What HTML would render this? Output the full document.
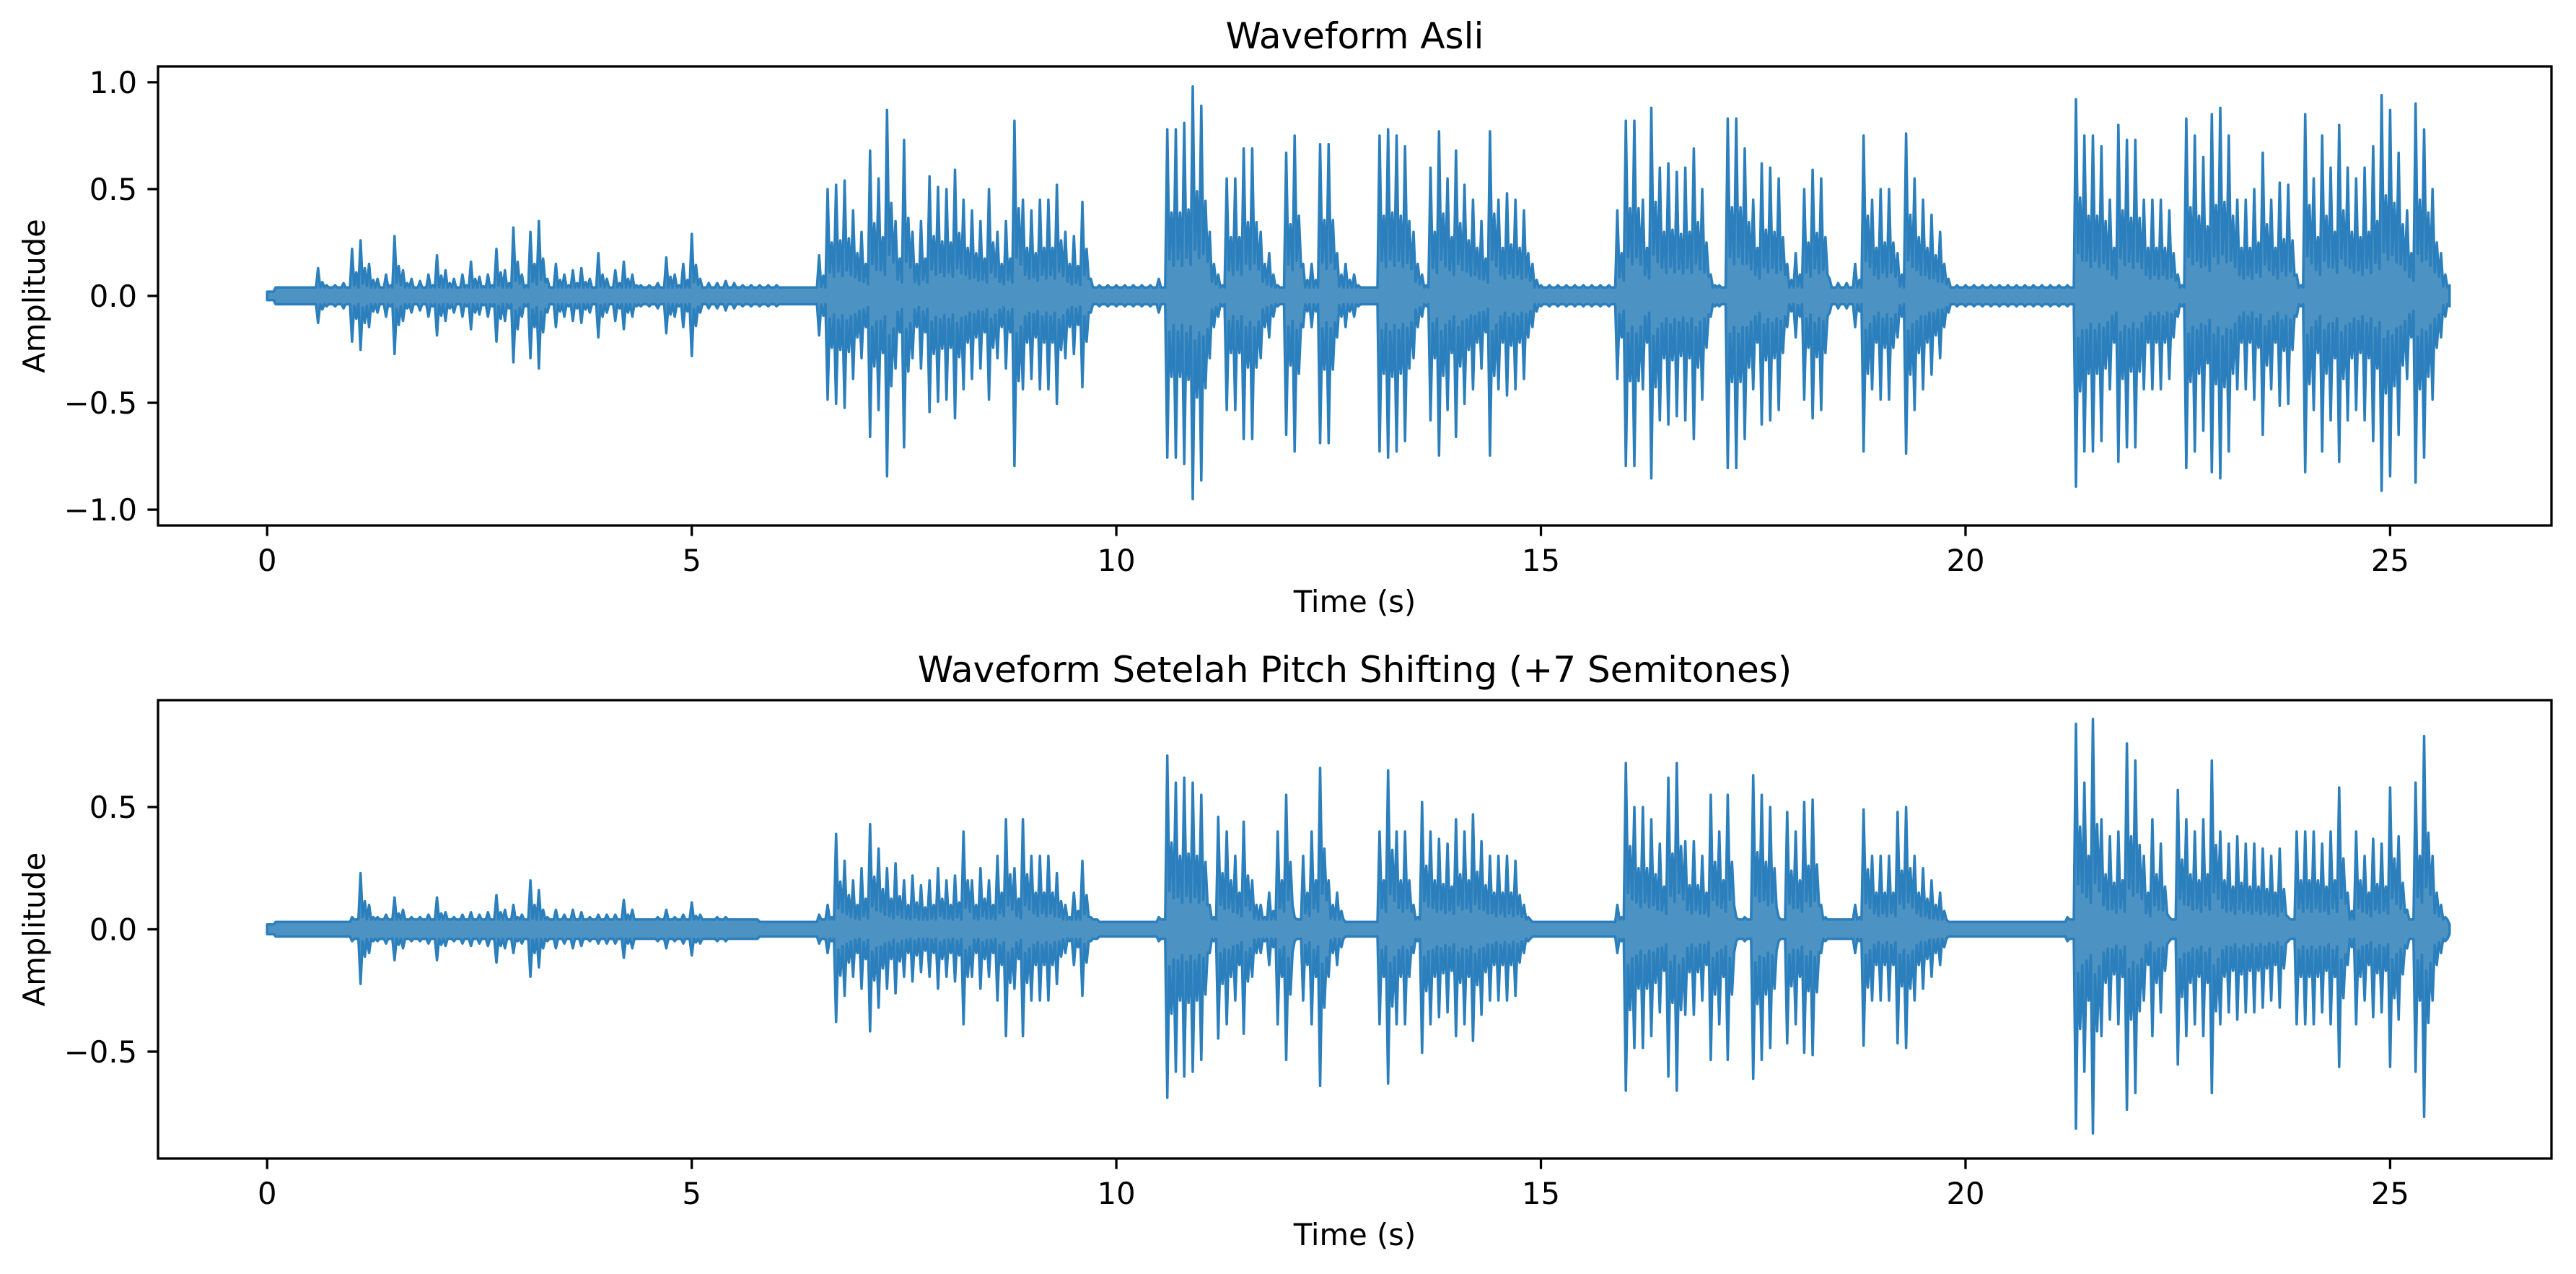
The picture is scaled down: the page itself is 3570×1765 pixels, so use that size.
<!DOCTYPE html>
<html><head><meta charset="utf-8"><style>
html,body{margin:0;padding:0;background:#fff;}
svg{display:block;font-family:"DejaVu Sans","Liberation Sans",sans-serif;}
</style></head><body>
<svg id="chart" width="3570" height="1765" viewBox="0 0 3570 1765" xmlns="http://www.w3.org/2000/svg">
<rect width="3570" height="1765" fill="#fff"/>
<g id="p1"></g>
<g id="p2"></g>
</svg>
<script>
const origPeaks = [
0.02,0.04,0.04,0.04,0.04,0.04,0.13,0.05,0.05,0.06,
0.22,0.26,0.15,0.08,0.10,0.28,0.12,0.08,0.07,0.10,
0.19,0.12,0.08,0.10,0.16,0.09,0.10,0.22,0.12,0.32,
0.10,0.30,0.35,0.08,0.15,0.10,0.12,0.13,0.08,0.20,
0.08,0.12,0.16,0.10,0.05,0.05,0.06,0.18,0.10,0.15,
0.29,0.08,0.06,0.06,0.07,0.06,0.05,0.05,0.05,0.05,
0.05,0.04,0.04,0.04,0.04,0.19,0.50,0.52,0.54,0.40,
0.30,0.68,0.55,0.87,0.35,0.73,0.30,0.35,0.56,0.51,
0.50,0.59,0.45,0.40,0.35,0.50,0.30,0.35,0.82,0.45,
0.40,0.45,0.45,0.52,0.30,0.28,0.44,0.08,0.05,0.05,
0.05,0.05,0.05,0.05,0.05,0.08,0.78,0.78,0.81,0.98,
0.89,0.30,0.10,0.55,0.55,0.69,0.69,0.30,0.20,0.05,
0.67,0.75,0.15,0.15,0.71,0.71,0.20,0.15,0.10,0.04,
0.04,0.75,0.78,0.75,0.70,0.30,0.10,0.60,0.77,0.55,
0.68,0.52,0.45,0.35,0.77,0.45,0.48,0.45,0.40,0.15,
0.05,0.05,0.05,0.05,0.05,0.05,0.05,0.05,0.05,0.40,
0.82,0.82,0.45,0.88,0.60,0.62,0.58,0.60,0.69,0.50,
0.10,0.05,0.83,0.83,0.69,0.45,0.62,0.60,0.55,0.15,
0.20,0.50,0.59,0.55,0.08,0.06,0.06,0.15,0.75,0.45,
0.50,0.50,0.20,0.76,0.55,0.45,0.38,0.30,0.08,0.05,
0.05,0.05,0.05,0.05,0.05,0.05,0.05,0.05,0.05,0.05,
0.05,0.05,0.05,0.92,0.75,0.75,0.70,0.45,0.80,0.73,
0.73,0.45,0.45,0.45,0.40,0.10,0.83,0.75,0.65,0.85,
0.88,0.75,0.45,0.45,0.50,0.67,0.45,0.53,0.52,0.10,
0.85,0.55,0.75,0.60,0.80,0.60,0.55,0.60,0.70,0.94,
0.87,0.67,0.40,0.90,0.78,0.50,0.20,0.05];
const shiftPeaks = [
0.02,0.03,0.03,0.03,0.03,0.03,0.03,0.03,0.03,0.03,
0.05,0.23,0.10,0.05,0.06,0.13,0.08,0.05,0.05,0.06,
0.13,0.07,0.05,0.06,0.07,0.06,0.07,0.14,0.08,0.10,
0.06,0.20,0.16,0.05,0.08,0.06,0.08,0.07,0.05,0.06,
0.06,0.06,0.12,0.08,0.04,0.04,0.05,0.08,0.05,0.06,
0.11,0.06,0.04,0.05,0.05,0.04,0.04,0.04,0.03,0.03,
0.03,0.03,0.03,0.03,0.03,0.06,0.10,0.39,0.28,0.20,
0.25,0.43,0.33,0.25,0.27,0.20,0.22,0.18,0.20,0.25,
0.20,0.22,0.40,0.20,0.25,0.20,0.30,0.45,0.25,0.45,
0.30,0.30,0.30,0.23,0.10,0.15,0.28,0.05,0.03,0.03,
0.03,0.03,0.03,0.03,0.03,0.05,0.71,0.60,0.62,0.60,
0.55,0.10,0.46,0.40,0.30,0.44,0.20,0.10,0.15,0.40,
0.55,0.05,0.30,0.40,0.66,0.20,0.15,0.03,0.03,0.03,
0.03,0.40,0.65,0.40,0.40,0.10,0.52,0.40,0.37,0.35,
0.45,0.40,0.47,0.36,0.30,0.30,0.30,0.28,0.10,0.03,
0.03,0.03,0.03,0.03,0.03,0.03,0.03,0.03,0.03,0.10,
0.68,0.50,0.50,0.45,0.35,0.62,0.68,0.36,0.36,0.30,
0.55,0.40,0.55,0.05,0.05,0.63,0.55,0.50,0.05,0.48,
0.40,0.52,0.53,0.10,0.04,0.04,0.04,0.10,0.49,0.30,
0.30,0.30,0.48,0.50,0.30,0.25,0.20,0.15,0.03,0.03,
0.03,0.03,0.03,0.03,0.03,0.03,0.03,0.03,0.03,0.03,
0.03,0.03,0.05,0.84,0.60,0.86,0.45,0.38,0.40,0.76,
0.69,0.30,0.45,0.35,0.05,0.57,0.45,0.40,0.45,0.69,
0.40,0.35,0.38,0.35,0.35,0.33,0.30,0.33,0.05,0.40,
0.40,0.40,0.35,0.40,0.58,0.15,0.40,0.30,0.37,0.35,
0.58,0.38,0.08,0.60,0.79,0.30,0.10,0.02];
const binSeconds = 0.1;
const xTicks = [0,5,10,15,20,25];
const yTicksTop = [-1.0,-0.5,0.0,0.5,1.0];
const yTicksBottom = [-0.5,0.0,0.5];
const titles = ["Waveform Asli","Waveform Setelah Pitch Shifting (+7 Semitones)"];

const NS = "http://www.w3.org/2000/svg";
function mk(tag, attrs, parent){
  const e = document.createElementNS(NS, tag);
  for (const k in attrs) e.setAttribute(k, attrs[k]);
  parent.appendChild(e); return e;
}
function fmt(v){ return (v<0?"\u2212":"") + Math.abs(v).toFixed(1); }

function panel(g, peaks, yTicks, ylim, top, bottom, title){
  const L=219, R=3536;
  const X = t => L + (t + 1.285) / (26.9 + 1.285) * (R - L);
  const Y = v => top + (ylim - v) / (2*ylim) * (bottom - top);
  let up=[], dn=[];
  const frac=[1,0.22,0.5,0.18];
  peaks.forEach((p,i)=>{
    const last = i===peaks.length-1;
    for(let k=0;k<(last?1:4);k++){
      const t=(i+k/4)*binSeconds;
      const a=Math.max(p*frac[k], Math.min(p,0.04));
      up.push(X(t).toFixed(1)+","+Y(a).toFixed(1));
      dn.push(X(t).toFixed(1)+","+Y(-a*0.97).toFixed(1));
    }
  });
  const wave = mk("polygon",{points: up.concat(dn.reverse()).join(" "), fill:"#1f77b4","fill-opacity":"0.8", stroke:"#2b7fbc","stroke-width":"3.5","stroke-linejoin":"round"}, g);
  
  
  const fr = mk("rect",{x:L,y:top,width:R-L,height:bottom-top,fill:"none",stroke:"#000","stroke-width":"3.3"}, g);
  
  
  xTicks.forEach(t=>{
    const x=X(t);
    mk("line",{x1:x,x2:x,y1:bottom,y2:bottom+14.6,stroke:"#000","stroke-width":"3.3"}, g);
    const tx = mk("text",{x:x,y:bottom+63,"font-size":"41.7","text-anchor":"middle"}, g);
    tx.textContent = String(t);
    
    
  });
  yTicks.forEach(v=>{
    const y=Y(v);
    mk("line",{x1:L-14.6,x2:L,y1:y,y2:y,stroke:"#000","stroke-width":"3.3"}, g);
    const ty = mk("text",{x:L-29,y:y+15,"font-size":"41.7","text-anchor":"end"}, g);
    ty.textContent = fmt(v);
    
    
  });
  const tt = mk("text",{x:(L+R)/2,y:top-25,"font-size":"50","text-anchor":"middle"}, g);
  tt.textContent = title;
  
  
  const xl = mk("text",{x:(L+R)/2,y:bottom+120,"font-size":"41.7","text-anchor":"middle"}, g);
  xl.textContent = "Time (s)";
  
  
  const cy=(top+bottom)/2;
  const yl = mk("text",{x:62,y:cy,"font-size":"41.7","text-anchor":"middle",transform:"rotate(-90 62 "+cy+")"}, g);
  yl.textContent = "Amplitude";
  
  
}
panel(document.getElementById("p1"), origPeaks, yTicksTop, 1.074, 92, 728, titles[0]);
panel(document.getElementById("p2"), shiftPeaks, yTicksBottom, 0.937, 970, 1605, titles[1]);
</script>
</body></html>
